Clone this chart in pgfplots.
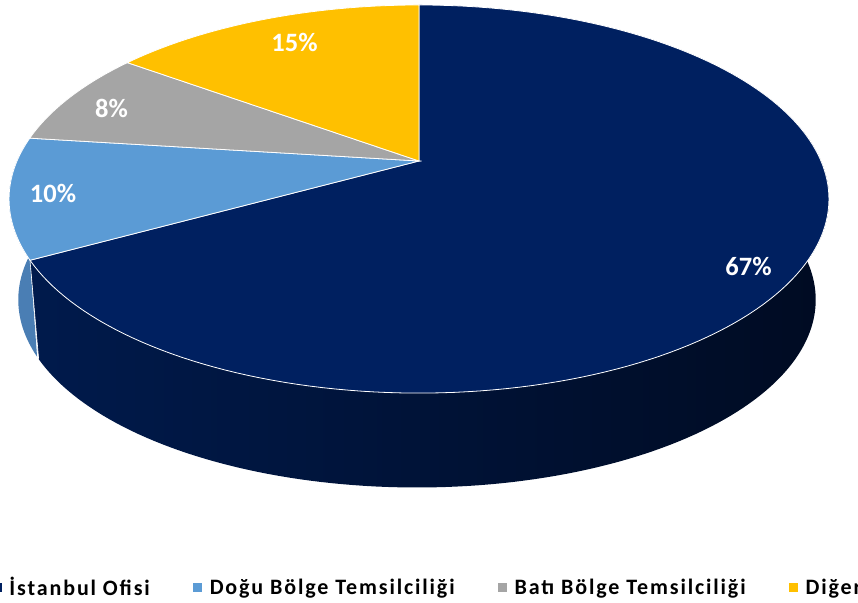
\documentclass[border=0pt]{standalone}
\usepackage{pgfplots}
\pgfplotsset{compat=1.18}
\usepackage{pgfplotstable}
\usepackage{fontspec}
\setmainfont{Carlito}
\newfontfamily\legfont[LetterSpace=8.5]{Carlito}
\definecolor{cNavy}{HTML}{002060}
\definecolor{cBlue}{HTML}{5B9BD5}
\definecolor{cGray}{HTML}{A5A5A5}
\definecolor{cYellow}{HTML}{FFC000}
\definecolor{sNavyL}{HTML}{001A4C}
\definecolor{sNavyR}{HTML}{000B22}
\definecolor{sBlue}{HTML}{4A7EB4}
\pgfplotstableread[col sep=comma]{
label,value
İstanbul Ofisi,67
Doğu Bölge Temsilciliği,10
Batı Bölge Temsilciliği,8
Diğer,15
}\piedata
\begin{document}
\begin{tikzpicture}
\pgfplotstablegetelem{0}{value}\of\piedata \pgfmathsetmacro{\vA}{\pgfplotsretval}
\pgfplotstablegetelem{1}{value}\of\piedata \pgfmathsetmacro{\vB}{\pgfplotsretval}
\pgfplotstablegetelem{2}{value}\of\piedata \pgfmathsetmacro{\vC}{\pgfplotsretval}
\pgfplotstablegetelem{3}{value}\of\piedata \pgfmathsetmacro{\vD}{\pgfplotsretval}
\pgfmathsetmacro{\aO}{90}
\pgfmathsetmacro{\aA}{\aO-3.6*\vA}
\pgfmathsetmacro{\aB}{\aA-3.6*\vB}
\pgfmathsetmacro{\aC}{\aB-3.6*\vC}
\pgfmathsetmacro{\aD}{\aC-3.6*\vD}
\path[use as bounding box, clip] (0,0) rectangle (858bp,603bp);
\begin{axis}[at={(0,0)}, anchor=south west, width=858bp, height=603bp, scale only axis,
  xmin=0, xmax=858, ymin=0, ymax=603, y dir=reverse, hide axis, clip=false,
  declare function={
    pw(\ang)=1+0.196*sin(\ang);
    px(\ang)=419+402*cos(\ang)/pw(\ang);
    py(\ang)=161-186.6*sin(\ang)/pw(\ang);
    bx(\ang)=417+391*cos(\ang)/pw(\ang);
    by(\ang)=263-180.5*sin(\ang)/pw(\ang);
    sx(\uu,\ta,\tb)=(\uu<=1)?px(\ta+\uu*(\tb-\ta)):bx(\tb-(\uu-1)*(\tb-\ta));
    sy(\uu,\ta,\tb)=(\uu<=1)?py(\ta+\uu*(\tb-\ta)):by(\tb-(\uu-1)*(\tb-\ta));
  },
  legend columns=4,
  legend image code/.code={\fill[#1, draw=none] (0bp,-4.5bp) rectangle (9bp,4.5bp);},
  legend style={draw=none, fill=none, at={(axis cs:-7.5,587.5)}, anchor=west,
    inner sep=0pt, outer sep=0pt,
    font=\fontsize{22bp}{26bp}\legfont\bfseries,
    nodes={inner sep=0pt},
    /tikz/every even column/.append style={column sep=43bp},
    /tikz/every odd column/.append style={column sep=8bp}},
]
% sides
\addplot[forget plot, draw=none, left color=sNavyL, right color=sNavyR, domain=0:2, samples=241, variable=\uu]
  ({sx(\uu,\aA,10)},{sy(\uu,\aA,10)}) -- cycle;
\addplot[forget plot, draw=none, fill=sBlue, domain=0:2, samples=101, variable=\uu]
  ({sx(\uu,-185,\aA)},{sy(\uu,-185,\aA)}) -- cycle;
\addplot[forget plot, white, line width=0.6bp, domain=0:1, samples=2, variable=\uu]
  ({px(\aA)*(1-\uu)+bx(\aA)*\uu},{py(\aA)*(1-\uu)+by(\aA)*\uu});
% top faces
\addplot[fill=cNavy, draw=white, line width=0.8bp, domain=\aA:\aO, samples=160, variable=\ang]
  ({px(\ang)},{py(\ang)}) -- (axis cs:419,161) -- cycle;
\addlegendentry{İstanbul Ofisi}
\addplot[fill=cBlue, draw=white, line width=0.8bp, domain=\aB:\aA, samples=40, variable=\ang]
  ({px(\ang)},{py(\ang)}) -- (axis cs:419,161) -- cycle;
\addlegendentry{Doğu Bölge Temsilciliği}
\addplot[fill=cGray, draw=white, line width=0.8bp, domain=\aC:\aB, samples=40, variable=\ang]
  ({px(\ang)},{py(\ang)}) -- (axis cs:419,161) -- cycle;
\addlegendentry{Batı Bölge Temsilciliği}
\addplot[fill=cYellow, draw=white, line width=0.8bp, domain=\aD:\aC, samples=60, variable=\ang]
  ({px(\ang)},{py(\ang)}) -- (axis cs:419,161) -- cycle;
\addlegendentry{Diğer}
% value labels
\begin{scope}[every node/.style={anchor=base, text=white, inner sep=0pt, font=\fontsize{26.5bp}{30bp}\selectfont\bfseries}]
\node at (axis cs:748.5,275) {67\%};
\node at (axis cs:53,202) {10\%};
\node at (axis cs:111.5,118) {8\%};
\node at (axis cs:294.5,52) {15\%};
\end{scope}
\end{axis}
\end{tikzpicture}
\end{document}
